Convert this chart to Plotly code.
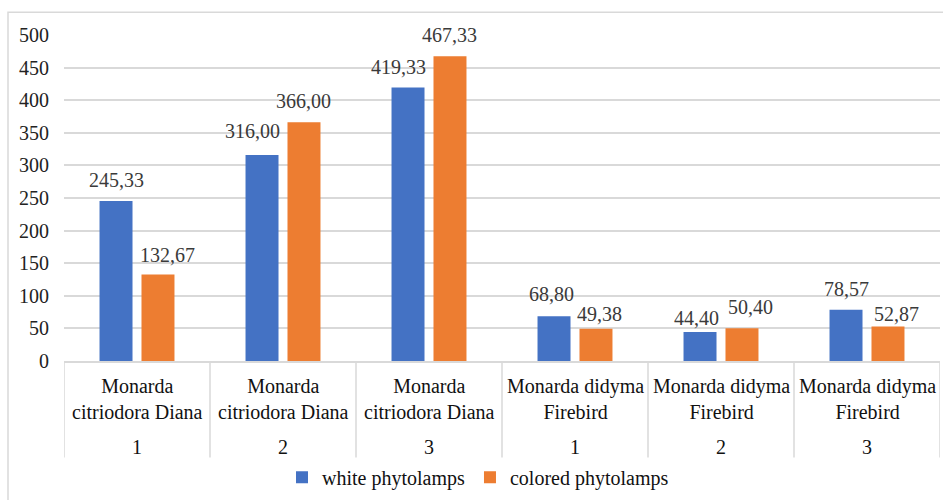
import textwrap
import plotly.graph_objects as go

# Data
species = ["Monarda citriodora Diana"] * 3 + ["Monarda didyma Firebird"] * 3
variants = ["1", "2", "3", "1", "2", "3"]
white = [245.33, 316.00, 419.33, 68.80, 44.40, 78.57]
colored = [132.67, 366.00, 467.33, 49.38, 50.40, 52.87]
y_ticks = list(range(0, 501, 50))
series_names = ["white phytolamps", "colored phytolamps"]

# Styling
BLUE = "#4472C4"
ORANGE = "#ED7D31"
GRID = "#D9D9D9"
FONT = "'Liberation Serif', 'Times New Roman', Times, serif"
BARGAP = 0.425
BARGROUPGAP = 0.214

W, H = 943, 500
ML, MR, MT, MB = 64, 3, 35, 137
PW, PH = W - ML - MR, H - MT - MB


def py(px_y):
    """Convert a pixel row to paper y."""
    return (H - MB - px_y) / PH


def px(px_x):
    """Convert a pixel column to paper x."""
    return (px_x - ML) / PW


# Label nudges (pixels): horizontal shift and gap above the bar top
white_dx = [0, -10, -10, -3, -4, 0]
white_gap = [21, 24, 21, 22, 14, 21]
colored_dx = [10, 0, 0, 4, 9, 9]
colored_gap = [19.5, 21, 21, 15, 21, 13]

n = len(species)
xs = list(range(n))

fig = go.Figure()
for name, vals, color in [(series_names[0], white, BLUE), (series_names[1], colored, ORANGE)]:
    fig.add_trace(go.Bar(x=xs, y=vals, name=name, marker=dict(color=color, line=dict(width=0))))


def fmt(v):
    return f"{v:.2f}".replace(".", ",")


annotations = []
half = (1 - BARGAP) / 4
for vals, sign, dxs, gaps in [(white, -1, white_dx, white_gap), (colored, 1, colored_dx, colored_gap)]:
    for i, v in enumerate(vals):
        annotations.append(dict(
            x=i + sign * half, y=v, xref="x", yref="y", text=fmt(v), showarrow=False,
            xanchor="center", yanchor="middle", xshift=dxs[i], yshift=gaps[i],
            font=dict(family=FONT, size=20, color="#3a3a3a"),
        ))

# Two-level category labels
for i in range(n):
    annotations.append(dict(
        x=i, y=py(401), xref="x", yref="paper", showarrow=False,
        text="<br>".join(textwrap.wrap(species[i], width=16)),
        xanchor="center", yanchor="middle", align="center",
        font=dict(family=FONT, size=20, color="#111111"),
    ))
    annotations.append(dict(
        x=i, y=py(450), xref="x", yref="paper", showarrow=False, text=variants[i],
        xanchor="center", yanchor="middle",
        font=dict(family=FONT, size=20, color="#111111"),
    ))

shapes = []
# Category dividers
for k in range(n + 1):
    shapes.append(dict(type="line", xref="x", yref="paper", x0=k - 0.5, x1=k - 0.5,
                       y0=0, y1=py(460), line=dict(color=GRID, width=1.5)))
# Chart border
shapes.append(dict(type="rect", xref="paper", yref="paper", x0=px(8), x1=px(960),
                   y0=py(520), y1=py(12), line=dict(color=GRID, width=1.5), layer="below"))

fig.update_layout(
    width=W, height=H,
    margin=dict(l=ML, r=MR, t=MT, b=MB),
    paper_bgcolor="white", plot_bgcolor="white",
    barmode="group", bargap=BARGAP, bargroupgap=BARGROUPGAP,
    font=dict(family=FONT, size=20, color="#3a3a3a"),
    showlegend=True,
    legend=dict(orientation="h", x=px(478), xanchor="center", y=py(480), yanchor="middle",
                font=dict(family=FONT, size=20, color="#111111"), bgcolor="rgba(0,0,0,0)",
                itemwidth=30, traceorder="normal"),
    annotations=annotations,
    shapes=shapes,
    xaxis=dict(range=[-0.5, n - 0.5], showticklabels=False, showgrid=False, zeroline=False,
               showline=True, linecolor=GRID, linewidth=1.5, ticks=""),
    yaxis=dict(range=[0, 500], tickvals=y_ticks, showgrid=True, gridcolor=GRID, gridwidth=1.5,
               zeroline=False, showline=False, ticks="", ticklabelstandoff=14,
               tickfont=dict(family=FONT, size=20, color="#222222")),
)

fig.write_html("out.html")
